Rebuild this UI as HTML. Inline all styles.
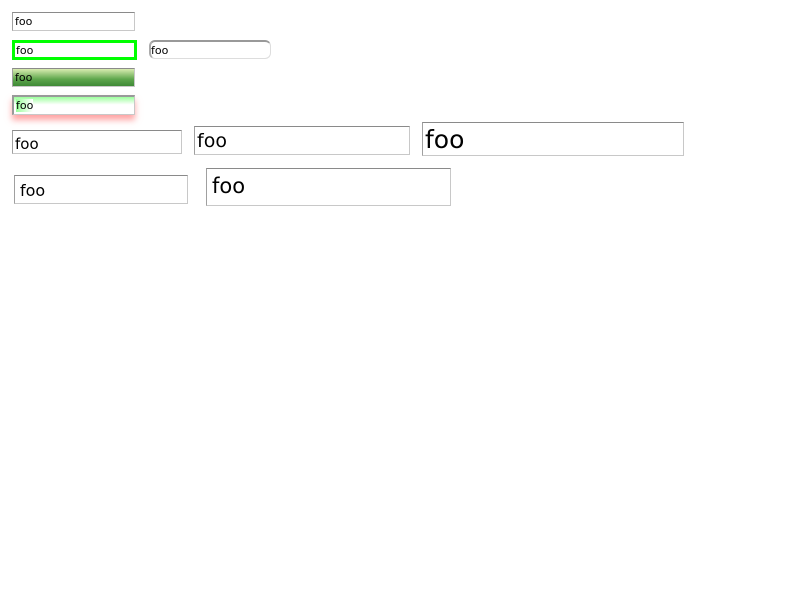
<!DOCTYPE html>
<html><head><style>
body{margin:0;width:800px;height:600px;background:#fff;position:relative;font-family:"DejaVu Sans","Liberation Sans",sans-serif;overflow:hidden}
.b{position:absolute;box-sizing:border-box;border:1px solid #c8c8c8;border-top-color:#8a8a8a;border-left-color:#a0a0a0;background:#fff;color:#000;display:flex;align-items:center;padding-left:2px;white-space:nowrap}
</style></head><body>
<div class="b" style="left:12px;top:12px;width:123px;height:19px;font-size:11px">foo</div>
<div class="b" style="left:12px;top:40px;width:125px;height:20px;font-size:11px;border:3px solid #00ff00;padding-left:1px">foo</div>
<div class="b" style="left:149px;top:40px;width:122px;height:19px;font-size:11px;border-radius:6px;border:1px solid #ddd;border-top:2px solid #999;border-left:2px solid #aaa;padding-left:0">foo</div>
<div class="b" style="left:12px;top:68px;width:123px;height:19px;font-size:11px;background:linear-gradient(#d8ecb0,#5ea64c 60%,#3f8a36)">foo</div>
<div class="b" style="left:12px;top:95px;width:123px;height:20px;font-size:11px;border-top:2px solid #999;border-left:2px solid #999;background:linear-gradient(#9cff9c,#fff 45%);box-shadow:0 5px 6px rgba(255,90,90,.55)"><span style="background:linear-gradient(90deg,#9f9,#fff);">foo</span></div>
<div class="b" style="left:12px;top:130px;width:170px;height:24px;font-size:15px;padding-top:3px">foo</div>
<div class="b" style="left:194px;top:126px;width:216px;height:29px;font-size:19px">foo</div>
<div class="b" style="left:422px;top:122px;width:262px;height:34px;font-size:25px">foo</div>
<div class="b" style="left:14px;top:175px;width:174px;height:29px;font-size:16px;padding-left:5px;padding-top:2px">foo</div>
<div class="b" style="left:206px;top:168px;width:245px;height:38px;font-size:21px;padding-left:5px;align-items:flex-start;padding-top:5px">foo</div>
</body></html>
